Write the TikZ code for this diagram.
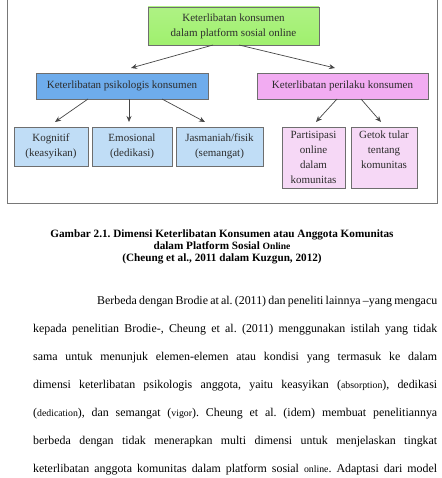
\documentclass[tikz,border=0pt]{standalone}
\usepackage{fontspec}
\setmainfont{Liberation Serif}
\usetikzlibrary{arrows.meta}
\definecolor{boxline}{RGB}{110,110,110}
\definecolor{boxtext}{RGB}{45,45,45}
\definecolor{greenbox}{RGB}{160,240,110}
\definecolor{bluebox}{RGB}{110,172,236}
\definecolor{lbluebox}{RGB}{192,221,246}
\definecolor{pinkbox}{RGB}{242,172,242}
\definecolor{lpinkbox}{RGB}{246,216,246}
\definecolor{arrowcol}{RGB}{70,70,70}
\definecolor{framecol}{RGB}{120,120,120}
\newcommand{\sm}[1]{{\fontsize{9.8}{12}\selectfont #1}}
\frenchspacing
\begin{document}
\begin{tikzpicture}[x=1pt,y=-1pt,
  box/.style={draw=boxline,line width=0.6pt,inner sep=0pt,outer sep=0pt,
    text=boxtext,align=center,font=\fontsize{11}{15}\selectfont},
  arr/.style={draw=arrowcol,line width=0.7pt,-{Stealth[length=6pt,width=5pt]}},
  pline/.style={anchor=base west,inner sep=0pt,font=\fontsize{11.9}{14}\selectfont},
  captxt/.style={anchor=base,inner sep=0pt,font=\fontsize{11.2}{13}\selectfont\bfseries}
]
\useasboundingbox (0,0) rectangle (441,478);
\fill[white] (0,0) rectangle (441,478);
% frame
\draw[framecol,line width=0.8pt] (7,-5) -- (7,203) -- (437,203) -- (437,-5);
% boxes
\node[box,top color=greenbox!85!white,bottom color=greenbox,minimum width=171pt,minimum height=38pt] (top) at (233.5,26) {Keterlibatan konsumen\\dalam platform sosial online};
\node[box,fill=bluebox,minimum width=172pt,minimum height=26pt] (psik) at (122,86) {Keterlibatan psikologis konsumen};
\node[box,fill=pinkbox,minimum width=171pt,minimum height=26pt] (peril) at (342.5,86) {Keterlibatan perilaku konsumen};
\node[box,fill=lbluebox,minimum width=74pt,minimum height=39pt] (kog) at (51,146.5) {Kognitif\\(keasyikan)};
\node[box,fill=lbluebox,minimum width=80pt,minimum height=39pt] (emo) at (132,146.5) {Emosional\\(dedikasi)};
\node[box,fill=lbluebox,minimum width=87pt,minimum height=39pt] (jas) at (219.5,146.5) {Jasmaniah/fisik\\(semangat)};
\node[box,fill=lpinkbox,minimum width=63pt,minimum height=61pt] (part) at (313.5,157.5) {Partisipasi\\online\\dalam\\komunitas};
\node[box,fill=lpinkbox,minimum width=66pt,minimum height=61pt] (getok) at (384,157.5) {Getok tular\\tentang\\komunitas\\\mbox{}};
% arrows
\draw[arr] ([xshift=-20.5pt]top.south) -- ([xshift=9pt,yshift=5pt]psik.north);
\draw[arr] ([xshift=5.5pt]top.south) -- ([xshift=-7.5pt,yshift=5pt]peril.north);
\draw[arr] ([xshift=-34pt]psik.south) -- ([xshift=4pt,yshift=5pt]kog.north);
\draw[arr] ([xshift=7pt]psik.south) -- ([xshift=-3pt,yshift=5pt]emo.north);
\draw[arr] ([xshift=40pt]psik.south) -- ([xshift=-14.5pt,yshift=5pt]jas.north);
\draw[arr] ([xshift=-5.5pt]peril.south) -- ([xshift=2.5pt,yshift=5pt]part.north);
\draw[arr] ([xshift=18.5pt]peril.south) -- ([xshift=-3pt,yshift=5pt]getok.north);
% caption
\node[captxt] (c1) at (222,237) {Gambar 2.1. Dimensi Keterlibatan Konsumen atau Anggota Komunitas};
\node[captxt] (c2) at (222,249) {dalam Platform Sosial {\fontsize{9.6}{12}\selectfont Online}};
\node[captxt] (c3) at (222,261) {(Cheung et al., 2011 dalam Kuzgun, 2012)};
% paragraph
\node[pline] (p1) at (97,304) {\makebox[340pt][s]{Berbeda dengan Brodie at al. (2011) dan peneliti lainnya –yang mengacu}};
\node[pline] (p2) at (33,332) {\makebox[404pt][s]{kepada penelitian Brodie-, Cheung et al. (2011) menggunakan istilah yang tidak}};
\node[pline] (p3) at (33,360) {\makebox[404pt][s]{sama untuk menunjuk elemen-elemen atau kondisi yang termasuk ke dalam}};
\node[pline] (p4) at (33,388) {\makebox[404pt][s]{dimensi keterlibatan psikologis anggota, yaitu keasyikan (\sm{absorption}), dedikasi}};
\node[pline] (p5) at (33,416) {\makebox[404pt][s]{(\sm{dedication}), dan semangat (\sm{vigor}). Cheung et al. (idem) membuat penelitiannya}};
\node[pline] (p6) at (33,444) {\makebox[404pt][s]{berbeda dengan tidak menerapkan multi dimensi untuk menjelaskan tingkat}};
\node[pline] (p7) at (33,472) {\makebox[404pt][s]{keterlibatan anggota komunitas dalam platform sosial \sm{online}. Adaptasi dari model}};
\end{tikzpicture}
\end{document}
